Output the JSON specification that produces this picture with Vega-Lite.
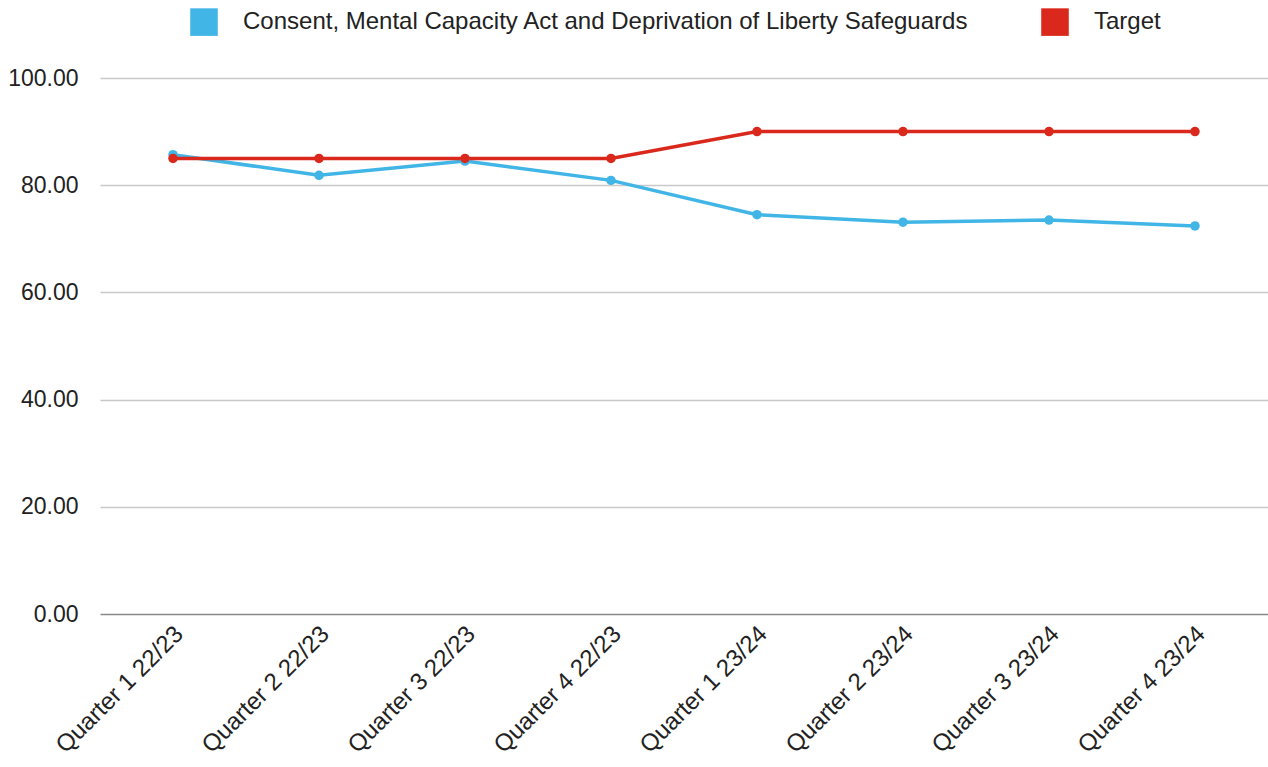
{
  "$schema": "https://vega.github.io/schema/vega-lite/v6.json",
  "width": 1168,
  "height": 536,
  "autosize": {"type": "none"},
  "padding": {"left": 100, "top": 78, "right": 0, "bottom": 153},
  "background": "white",
  "config": {
    "view": {"stroke": null},
    "font": "Liberation Sans"
  },
  "data": {
    "values": [
      {"quarter": "Quarter 1 22/23", "series": "Consent, Mental Capacity Act and Deprivation of Liberty Safeguards", "value": 85.7},
      {"quarter": "Quarter 2 22/23", "series": "Consent, Mental Capacity Act and Deprivation of Liberty Safeguards", "value": 81.85},
      {"quarter": "Quarter 3 22/23", "series": "Consent, Mental Capacity Act and Deprivation of Liberty Safeguards", "value": 84.5},
      {"quarter": "Quarter 4 22/23", "series": "Consent, Mental Capacity Act and Deprivation of Liberty Safeguards", "value": 80.9},
      {"quarter": "Quarter 1 23/24", "series": "Consent, Mental Capacity Act and Deprivation of Liberty Safeguards", "value": 74.5},
      {"quarter": "Quarter 2 23/24", "series": "Consent, Mental Capacity Act and Deprivation of Liberty Safeguards", "value": 73.1},
      {"quarter": "Quarter 3 23/24", "series": "Consent, Mental Capacity Act and Deprivation of Liberty Safeguards", "value": 73.5},
      {"quarter": "Quarter 4 23/24", "series": "Consent, Mental Capacity Act and Deprivation of Liberty Safeguards", "value": 72.4},
      {"quarter": "Quarter 1 22/23", "series": "Target", "value": 85},
      {"quarter": "Quarter 2 22/23", "series": "Target", "value": 85},
      {"quarter": "Quarter 3 22/23", "series": "Target", "value": 85},
      {"quarter": "Quarter 4 22/23", "series": "Target", "value": 85},
      {"quarter": "Quarter 1 23/24", "series": "Target", "value": 90},
      {"quarter": "Quarter 2 23/24", "series": "Target", "value": 90},
      {"quarter": "Quarter 3 23/24", "series": "Target", "value": 90},
      {"quarter": "Quarter 4 23/24", "series": "Target", "value": 90}
    ]
  },
  "encoding": {
    "x": {
      "field": "quarter",
      "type": "ordinal",
      "sort": null,
      "scale": {"type": "point", "padding": 0.5},
      "axis": {
        "title": null,
        "labelAngle": -45,
        "labelAlign": "right",
        "labelBaseline": "middle",
        "labelFontSize": 24,
        "labelColor": "#222222",
        "labelPadding": 16,
        "labelOffset": 6,
        "ticks": false,
        "domain": false,
        "grid": false
      }
    },
    "y": {
      "field": "value",
      "type": "quantitative",
      "scale": {"domain": [0, 100], "nice": false},
      "axis": {
        "title": null,
        "values": [0, 20, 40, 60, 80, 100],
        "format": ".2f",
        "labelFontSize": 23,
        "labelColor": "#222222",
        "labelPadding": 22,
        "ticks": false,
        "domain": false,
        "grid": true,
        "gridColor": {"condition": {"test": "datum.value === 0", "value": "#888888"}, "value": "#c8c8c8"},
        "gridWidth": 1.5
      }
    },
    "color": {
      "field": "series",
      "type": "nominal",
      "scale": {
        "domain": ["Consent, Mental Capacity Act and Deprivation of Liberty Safeguards", "Target"],
        "range": ["#41b6e6", "#da291c"]
      },
      "legend": {
        "title": null,
        "orient": "none",
        "legendX": 90,
        "legendY": -70,
        "direction": "horizontal",
        "symbolType": "square",
        "symbolSize": 760,
        "symbolStrokeWidth": 0,
        "symbolOpacity": 1,
        "labelFontSize": 24,
        "labelColor": "#222222",
        "labelOffset": 25,
        "columnPadding": 72,
        "labelLimit": 1000
      }
    }
  },
  "layer": [
    {"mark": {"type": "line", "strokeWidth": 3.5}},
    {"mark": {"type": "point", "filled": true, "size": 90, "opacity": 1, "shape": "circle"}}
  ]
}
